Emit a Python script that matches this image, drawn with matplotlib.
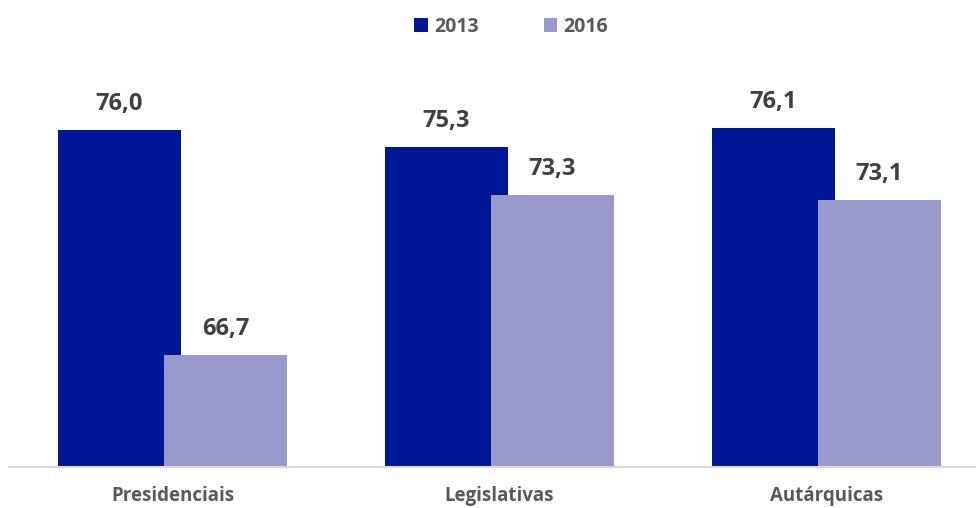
import numpy as np
import matplotlib.pyplot as plt
from matplotlib.patches import Patch

plt.rcParams['font.family'] = ['Open Sans', 'DejaVu Sans']

categories = ['Presidenciais', 'Legislativas', 'Autárquicas']
years = ['2013', '2016']
values_2013 = [76.0, 75.3, 76.1]
values_2016 = [66.7, 73.3, 73.1]

colors = ['#001896', '#9999CC']
label_color = '#404040'
text_color = '#595959'

W, H = 976, 508
fig = plt.figure(figsize=(W / 100, H / 100), dpi=100)
# axes placed in pixel terms: left 9, right 990 (runs off the edge), baseline at 467
ax = fig.add_axes([9 / W, 41 / H, 981 / W, 407 / H])

x = np.arange(len(categories))
width = 0.376
offset = 0.162
series = [values_2013, values_2016]
for i, (vals, col) in enumerate(zip(series, colors)):
    pos = x + (-offset if i == 0 else offset)
    bars = ax.bar(pos, vals, width, color=col, label=years[i], zorder=2 + i)
    for b, v in zip(bars, vals):
        ax.annotate(f'{v:.1f}'.replace('.', ','),
                    (b.get_x() + b.get_width() / 2, v),
                    xytext=(0, 10), textcoords='offset points',
                    ha='center', va='bottom', fontsize=17, fontweight='bold',
                    color=label_color)

ax.set_xlim(-0.5, 2.5)
ax.set_ylim(62.07, 62.07 + 407 / 24.19)

ax.set_xticks(x)
ax.set_xticklabels(categories, fontsize=13.5, fontweight='bold', color=text_color)
ax.tick_params(axis='x', length=0, pad=14)
ax.set_yticks([])
for s in ['top', 'right', 'left']:
    ax.spines[s].set_visible(False)
ax.spines['bottom'].set_color('#D9D9D9')
ax.spines['bottom'].set_linewidth(1.5)
ax.spines['bottom'].set_zorder(5)

handles = [Patch(facecolor=c, label=y) for c, y in zip(colors, years)]
leg = fig.legend(handles=handles, loc='center', bbox_to_anchor=(511 / W, 1 - 27 / H),
                 ncol=2, frameon=False, fontsize=14, handlelength=0.7,
                 handleheight=0.7, handletextpad=0.3, columnspacing=3.35)
for t in leg.get_texts():
    t.set_color(text_color)
    t.set_fontweight('bold')

fig.savefig('out.png', dpi=100)
